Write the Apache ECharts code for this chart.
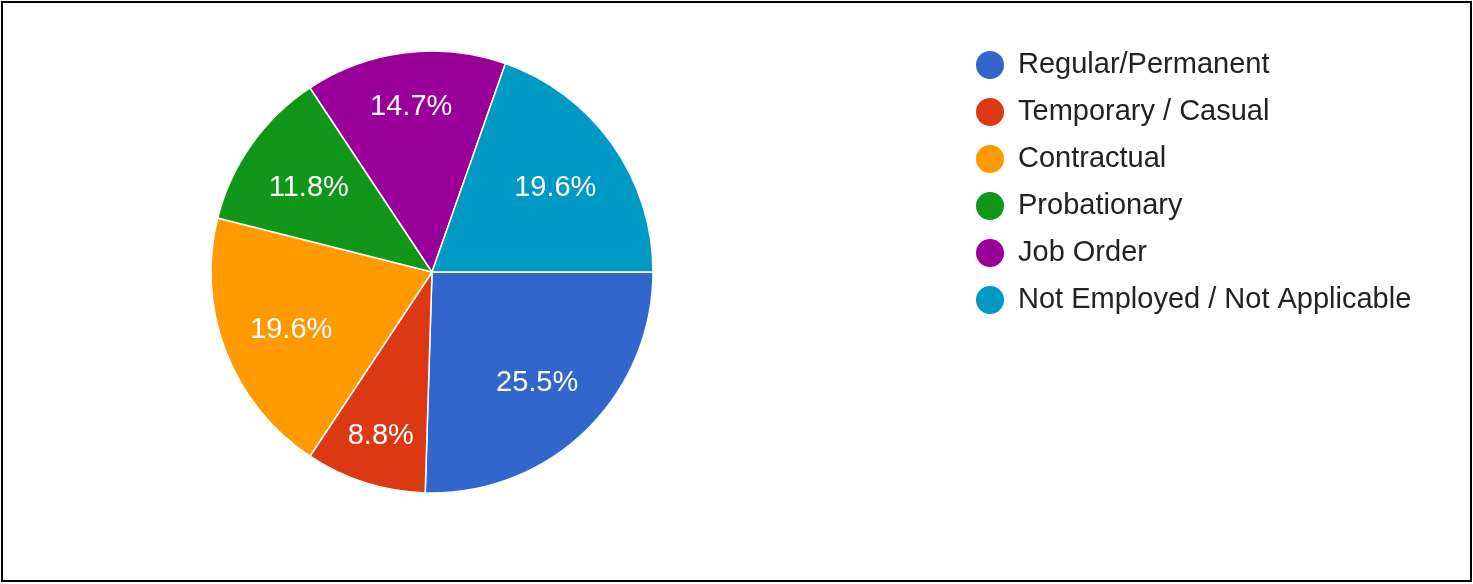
<!DOCTYPE html>
<html>
<head>
<meta charset="utf-8">
<script src="https://cdn.jsdelivr.net/npm/echarts@6/dist/echarts.min.js"></script>
<style>
    html, body { margin: 0; padding: 0; background: #fff; }
    #frame {
        position: absolute; left: 1px; top: 1px;
        width: 1471px; height: 581px;
        box-sizing: border-box; border: 2px solid #000;
    }
    #chart { position: absolute; left: 0; top: 0; width: 1473px; height: 584px; }
</style>
</head>
<body>
<div id="chart"></div>
<div id="frame"></div>
<script>
// responses per category (102 total)
const categories = ['Regular/Permanent', 'Temporary / Casual', 'Contractual', 'Probationary', 'Job Order', 'Not Employed / Not Applicable']
const counts = [26, 9, 20, 12, 15, 20]
const colors = ['#3366cc', '#dc3912', '#ff9900', '#109618', '#990099', '#0099c6']

// these slices have their label sitting further out, like google charts draws it
const outerLabelSlices = ['Temporary / Casual', 'Job Order']

const slices = categories.map((name, i) => ({ value: counts[i], name: name }))
const labelled = (outer) => categories.map((name, i) => ({
    value: counts[i],
    name: name,
    label: { show: outerLabelSlices.includes(name) === outer }
}))

const chart = echarts.init(document.getElementById('chart'))
const fontFamily = "'Liberation Sans', Arial, sans-serif"
const pieBase = {
    type: 'pie',
    center: [432, 272],
    startAngle: 0,
    clockwise: true,
    percentPrecision: 1,
    animation: false
}
const overlay = {
    ...pieBase,
    silent: true,
    itemStyle: { color: 'transparent', borderWidth: 0 },
    label: {
        show: true,
        position: 'inside',
        formatter: '{d}%',
        color: '#ffffff',
        fontSize: 29,
        fontFamily: fontFamily,
        offset: [0, 3]
    },
    labelLine: { show: false },
    emphasis: { disabled: true }
}

chart.setOption({
    color: colors,
    legend: {
        orient: 'vertical',
        left: 969,
        top: 44,
        data: categories,
        icon: 'circle',
        itemWidth: 46,
        itemHeight: 30,
        itemGap: 15,
        symbolKeepAspect: true,
        selectedMode: false,
        textStyle: {
            color: '#222222',
            fontSize: 29,
            fontFamily: fontFamily,
            lineHeight: 30
        }
    },
    series: [
        {
            ...pieBase,
            name: 'main',
            radius: [0, 221],
            data: slices,
            itemStyle: { borderColor: '#ffffff', borderWidth: 1.5 },
            label: { show: false },
            labelLine: { show: false },
            emphasis: { scale: false }
        },
        { ...overlay, name: 'labelsInner', radius: [76, 220], data: labelled(false) },
        { ...overlay, name: 'labelsOuter', radius: [112, 220], data: labelled(true) }
    ]
})
</script>
</body>
</html>
